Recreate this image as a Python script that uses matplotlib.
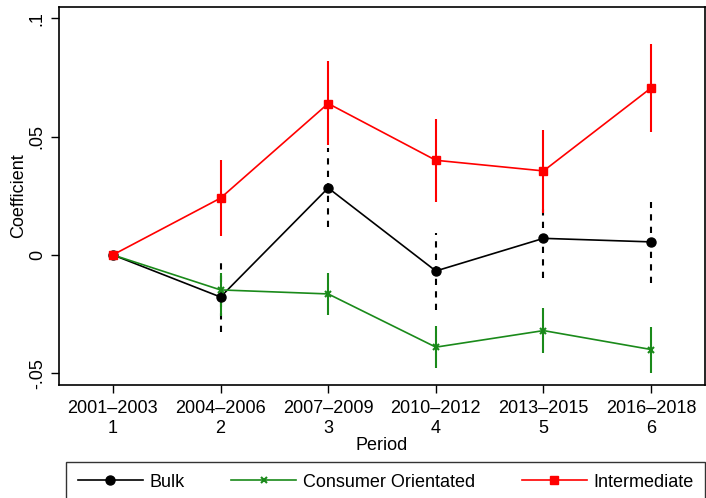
import matplotlib.pyplot as plt
import numpy as np

plt.rcParams['font.family'] = ['Liberation Sans', 'DejaVu Sans']

periods = [1, 2, 3, 4, 5, 6]
period_labels = ['2001–2003', '2004–2006', '2007–2009', '2010–2012', '2013–2015', '2016–2018']

bulk = [0.0, -0.0178, 0.0283, -0.0068, 0.0070, 0.0055]
bulk_lo = [0.0, -0.0325, 0.0118, -0.0232, -0.0097, -0.0118]
bulk_hi = [0.0, -0.0034, 0.0450, 0.0093, 0.0200, 0.0224]

consumer = [0.0, -0.0148, -0.0165, -0.0390, -0.0320, -0.0400]
consumer_lo = [0.0, -0.0260, -0.0254, -0.0480, -0.0415, -0.0500]
consumer_hi = [0.0, -0.0076, -0.0076, -0.0300, -0.0225, -0.0304]

inter = [0.0, 0.0240, 0.0640, 0.0400, 0.0355, 0.0706]
inter_lo = [0.0, 0.0080, 0.0465, 0.0224, 0.0177, 0.0520]
inter_hi = [0.0, 0.0400, 0.0820, 0.0575, 0.0530, 0.0890]

green = '#1a8a1a'

fig = plt.figure(figsize=(7.06, 4.98), dpi=100)
ax = fig.add_axes([59 / 706, 1 - 385 / 498, 646 / 706, 378 / 498])

# confidence intervals
ax.vlines(periods[1:], bulk_lo[1:], bulk_hi[1:], colors='black', linestyles=(0, (3, 3)), lw=1.5)
ax.vlines(periods[1:], consumer_lo[1:], consumer_hi[1:], colors=green, lw=1.5)
ax.vlines(periods[1:], inter_lo[1:], inter_hi[1:], colors='red', lw=1.5)

ax.plot(periods, bulk, color='black', lw=1.2, marker='o', ms=6.5, label='Bulk')
ax.plot(periods, consumer, color=green, lw=1.2, marker='x', ms=5, mew=1.5, label='Consumer Orientated')
ax.plot(periods, inter, color='red', lw=1.2, marker='s', ms=6, label='Intermediate')

ax.set_xlim(0.5, 6.5)
ax.set_ylim(-0.055, 0.1048)
ax.set_xticks(periods)
ax.set_xticklabels([f'{lab}\n{p}' for lab, p in zip(period_labels, periods)], fontsize=13)
ax.set_yticks([-0.05, 0, 0.05, 0.1])
ax.set_yticklabels(['-.05', '0', '.05', '.1'], fontsize=13, rotation=90, va='center')
ax.tick_params(direction='out', length=6, width=1)
ax.tick_params(axis='x', pad=5)
ax.set_xlabel('Period', fontsize=13, labelpad=0)
ax.set_ylabel('Coefficient', fontsize=13, labelpad=1)
for s in ax.spines.values():
    s.set_linewidth(1.2)

top = 1 - 462 / 498
leg = fig.legend(loc='upper left', bbox_to_anchor=(66 / 706, -0.1, 639 / 706, top + 0.1),
                 mode='expand', ncol=3, fontsize=13, frameon=True, fancybox=False,
                 edgecolor='black', handlelength=3.6, handletextpad=0.35,
                 borderaxespad=0, borderpad=0.65)
leg.get_frame().set_linewidth(1.0)

fig.savefig('out.png', dpi=100)
